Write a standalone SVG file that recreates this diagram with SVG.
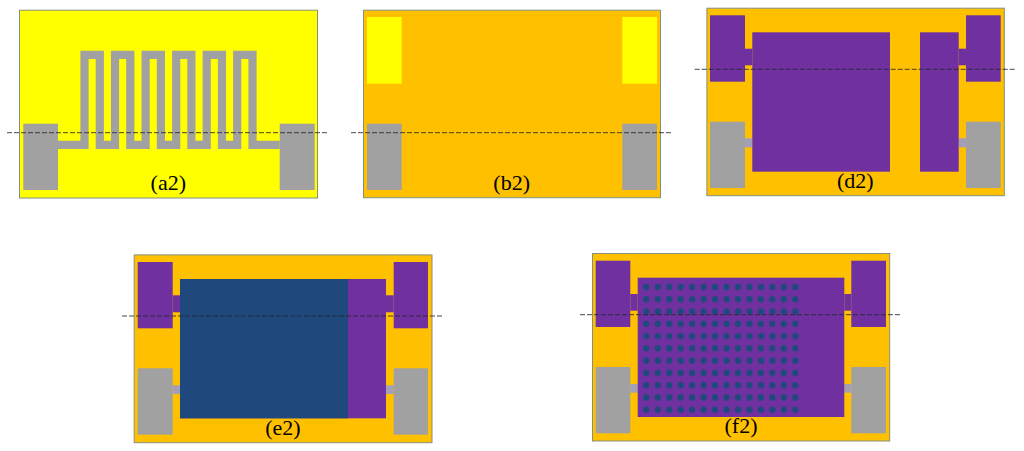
<svg xmlns="http://www.w3.org/2000/svg" width="1024" height="451" viewBox="0 0 1024 451">
<style>
.sub{stroke:#84917a;stroke-width:1}
.y{fill:#ffff00}.o{fill:#ffc000}.g{fill:#a1a1a1}.p{fill:#7030a0}.b{fill:#1f497d}.c{fill:#a49fb8}
.cut{stroke:#26262e;stroke-width:1;stroke-dasharray:5 2;fill:none;opacity:.85}
text{font-family:"Liberation Serif","Times New Roman",serif;font-size:22px;fill:#000;text-anchor:middle}
</style>
<defs>
<pattern id="holes" patternUnits="userSpaceOnUse" x="640.6" y="280.9" width="11.46" height="12.27">
<circle cx="5.73" cy="6.13" r="3.2" fill="#1f497d"/>
</pattern>
</defs>
<rect width="1024" height="451" fill="#fff"/>
<g id="panel-a2">
<rect class="sub y" x="19.5" y="10.2" width="298" height="187.8"/>
<rect class="g" x="23.3" y="123.7" width="34.7" height="66.3"/>
<rect class="g" x="279.7" y="123.7" width="35" height="66.3"/>
<polyline fill="none" stroke="#a1a1a1" stroke-width="8.2" stroke-linejoin="miter" points="58,144.8 84.5,144.8 84.5,54.8 99.8,54.8 99.8,144.8 115,144.8 115,54.8 130.3,54.8 130.3,144.8 145.6,144.8 145.6,54.8 160.9,54.8 160.9,144.8 176.2,144.8 176.2,54.8 191.4,54.8 191.4,144.8 206.7,144.8 206.7,54.8 222,54.8 222,144.8 237.2,144.8 237.2,54.8 252.5,54.8 252.5,144.8 279.7,144.8"/>
<text x="168.3" y="190">(a2)</text>
</g>
<g id="panel-b2">
<rect class="sub o" x="363.5" y="10.2" width="297" height="187.5"/>
<rect class="y" x="367" y="17" width="34.7" height="66.7"/>
<rect class="y" x="622.3" y="17" width="34.7" height="66.7"/>
<rect class="g" x="367" y="123.7" width="34.7" height="66.3"/>
<rect class="g" x="622.3" y="123.7" width="34.7" height="66.3"/>
<text x="511.7" y="190">(b2)</text>
</g>
<g id="panel-d2">
<rect class="sub o" x="706.9" y="8.2" width="297.4" height="187.5"/>
<rect class="p" x="710" y="15.3" width="35" height="66.4"/>
<rect class="p" x="966" y="15.3" width="34.7" height="66.4"/>
<rect class="g" x="710" y="121.7" width="35" height="66.3"/>
<rect class="g" x="966" y="121.7" width="34.7" height="66.3"/>
<rect class="p" x="745" y="48.7" width="7.3" height="16.6"/>
<rect class="p" x="958.7" y="48.7" width="7.3" height="16.6"/>
<rect class="c" x="745" y="138.3" width="7.3" height="9"/>
<rect class="c" x="958.7" y="138.3" width="7.3" height="9"/>
<rect class="p" x="752.3" y="32.3" width="137.7" height="139.4"/>
<rect class="p" x="920" y="32.3" width="38.7" height="139.4"/>
<text x="855.3" y="188">(d2)</text>
</g>
<g id="panel-e2">
<rect class="sub o" x="134.2" y="254.9" width="297.8" height="187.8"/>
<rect class="p" x="137.7" y="262" width="35" height="66.3"/>
<rect class="p" x="393.7" y="262" width="34.3" height="66.3"/>
<rect class="g" x="137.7" y="368.3" width="35" height="66.4"/>
<rect class="g" x="393.7" y="368.3" width="34.3" height="66.4"/>
<rect class="p" x="172.7" y="295.3" width="7.3" height="17"/>
<rect class="p" x="386" y="295.3" width="7.7" height="17"/>
<rect class="c" x="172.7" y="385.3" width="7.3" height="8.7"/>
<rect class="c" x="386" y="385.3" width="7.7" height="8.7"/>
<rect class="p" x="180" y="279" width="206" height="139.3"/>
<rect class="b" x="180" y="279" width="168" height="139.3"/>
<text x="283" y="434.5">(e2)</text>
</g>
<g id="panel-f2">
<rect class="sub o" x="592.5" y="253.5" width="297.2" height="187.5"/>
<rect class="p" x="595.7" y="260.7" width="34.6" height="66.3"/>
<rect class="p" x="851.3" y="260.7" width="34.7" height="66.3"/>
<rect class="g" x="595.7" y="367" width="34.6" height="66.3"/>
<rect class="g" x="851.3" y="367" width="34.7" height="66.3"/>
<rect class="p" x="630.3" y="294" width="7.4" height="16.7"/>
<rect class="p" x="844.3" y="294" width="7" height="16.7"/>
<rect class="c" x="630.3" y="384" width="7.4" height="8.7"/>
<rect class="c" x="844.3" y="384" width="7" height="8.7"/>
<rect class="p" x="637.7" y="277.7" width="206.6" height="139.3"/>
<rect fill="url(#holes)" x="640.6" y="280.9" width="160.5" height="135"/>
<text x="741" y="433">(f2)</text>
</g>
<g id="section-lines">
<line class="cut" x1="7" y1="132.7" x2="329" y2="132.7"/>
<line class="cut" x1="351" y1="132.7" x2="673" y2="132.7"/>
<line class="cut" x1="694.7" y1="69.3" x2="1016.7" y2="69.3"/>
<line class="cut" x1="122" y1="316" x2="444" y2="316"/>
<line class="cut" x1="580" y1="314.7" x2="902" y2="314.7"/>
</g>
</svg>
